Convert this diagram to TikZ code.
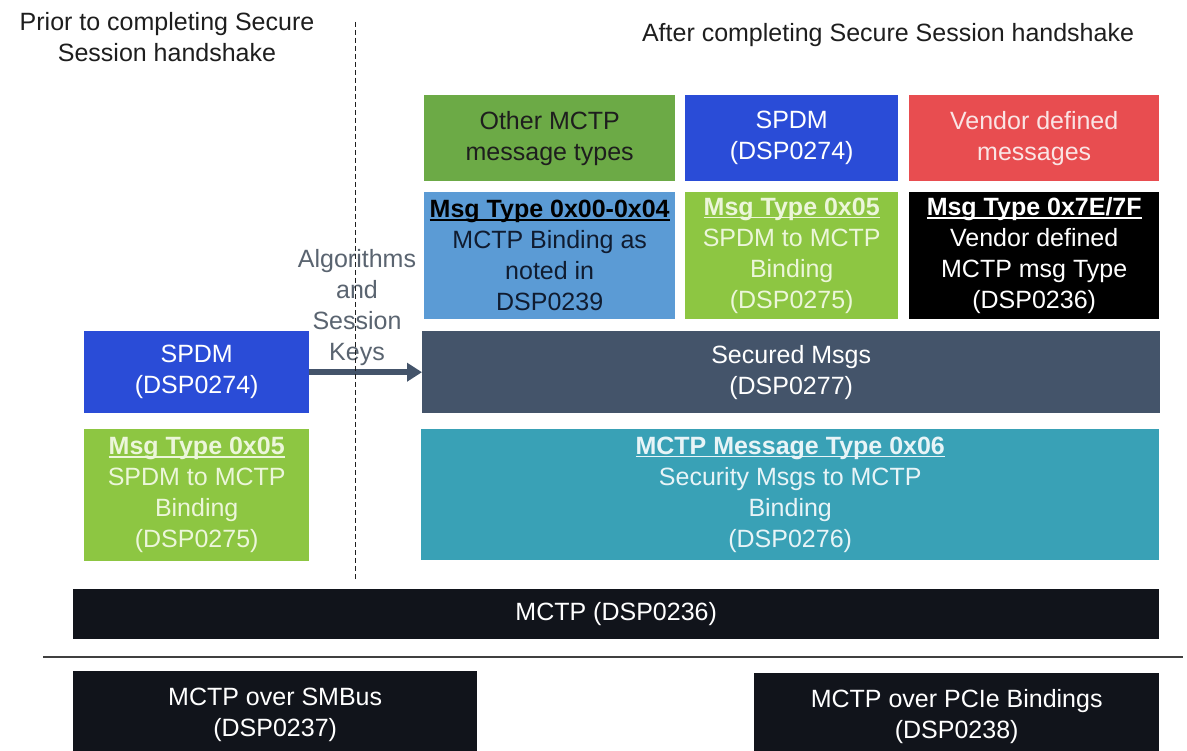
\documentclass[tikz,border=0pt]{standalone}
\usepackage{fontspec}
\setmainfont{Liberation Sans}
\usetikzlibrary{arrows.meta}
\definecolor{cOther}{RGB}{108,170,70}
\definecolor{cSpdm}{RGB}{42,76,215}
\definecolor{cVend}{RGB}{232,77,80}
\definecolor{cVendTxt}{RGB}{250,228,228}
\definecolor{cLBlue}{RGB}{91,155,213}
\definecolor{cLBlueTxt}{RGB}{16,28,48}
\definecolor{cLGreen}{RGB}{141,198,66}
\definecolor{cLGreenTxt}{RGB}{236,246,218}
\definecolor{cSec}{RGB}{68,84,106}
\definecolor{cTeal}{RGB}{57,161,182}
\definecolor{cTealTxt}{RGB}{232,244,247}
\definecolor{cDark}{RGB}{17,20,27}
\definecolor{cAlg}{RGB}{90,100,112}
\definecolor{cTitle}{RGB}{30,30,30}
\newcommand\hul[1]{\setbox0=\hbox{\bfseries #1}\rlap{\rule[-3pt]{\wd0}{1.5pt}}\box0}
\begin{document}
\begin{tikzpicture}[x=1pt,y=-1pt,
  box/.style={rectangle, anchor=north west, inner sep=0pt, align=center,
    font=\fontsize{25}{31}\selectfont},
  lbl/.style={inner sep=0pt, align=center, font=\fontsize{25}{31}\selectfont},
  arrowst/.style={draw=cSec, line width=6pt, -{Triangle[length=15pt,width=18pt]}},
  divider/.style={draw=cTitle, dash pattern=on 5pt off 3pt, line width=0.9pt},
  sepline/.style={draw=black!75, line width=1.6pt}]
\useasboundingbox (0,0) rectangle (1187,751);
\fill[white] (0,0) rectangle (1187,751);
% titles
\node[lbl, text=cTitle] (tleft) at (167,37) {Prior to completing Secure\\Session handshake};
\node[lbl, text=cTitle] (tright) at (888,35) {After completing Secure Session handshake};
% top row
\node[box, fill=cOther, text=cTitle, minimum width=251pt, minimum height=86pt] (other) at (424,95) {Other MCTP\\message types};
\node[box, fill=cSpdm, text=white, minimum width=213pt, minimum height=86pt] (spdmT) at (685,95) {SPDM\\(DSP0274)};
\node[box, fill=cVend, text=cVendTxt, minimum width=250pt, minimum height=86pt] (vend) at (909,95) {Vendor defined\\messages};
% second row
\node[box, fill=cLBlue, text=cLBlueTxt, minimum width=251pt, minimum height=127pt] (mt0) at (424,192) {{\color{black}\hul{Msg Type 0x00-0x04}}\\MCTP Binding as\\noted in\\DSP0239};
\node[box, fill=cLGreen, text=cLGreenTxt, minimum width=213pt, minimum height=127pt] (mt5) at (685,192) {\hul{Msg Type 0x05}\\SPDM to MCTP\\Binding\\(DSP0275)};
\node[box, fill=black, text=white, minimum width=250pt, minimum height=127pt] (mt7) at (909,192) {\hul{Msg Type 0x7E/7F}\\Vendor defined\\MCTP msg Type\\(DSP0236)};
% secured
\node[box, fill=cSec, text=white, minimum width=738pt, minimum height=82pt] (sec) at (422,331) {Secured Msgs\\(DSP0277)};
\node[box, fill=cSpdm, text=white, minimum width=225pt, minimum height=82pt] (spdmL) at (84,331) {SPDM\\(DSP0274)};
% third row
\node[box, fill=cLGreen, text=cLGreenTxt, minimum width=225pt, minimum height=132pt] (mt5L) at (84,429) {\hul{Msg Type 0x05}\\SPDM to MCTP\\Binding\\(DSP0275)};
\node[box, fill=cTeal, text=cTealTxt, minimum width=738pt, minimum height=131pt] (teal) at (421,429) {\hul{MCTP Message Type 0x06}\\Security Msgs to MCTP\\Binding\\(DSP0276)};
% MCTP
\node[box, fill=cDark, text=white, minimum width=1086pt, minimum height=50pt] (mctp) at (73,589) {MCTP (DSP0236)};
% bottom
\node[box, fill=cDark, text=white, minimum width=404pt, minimum height=88pt] (smbus) at (73,671) {MCTP over SMBus\\(DSP0237)};
\node[box, fill=cDark, text=white, minimum width=405pt, minimum height=86pt] (pcie) at (754,673) {MCTP over PCIe Bindings\\(DSP0238)};
% separator
\coordinate (sl) at (43,657);
\coordinate (sr) at (1183,657);
\draw[sepline] (sl) -- (sr);
% arrow and label
\node[lbl, text=cAlg] (alg) at (357,308) {Algorithms\\and\\Session\\Keys};
\draw[arrowst] (spdmL.east) -- (sec.west);
% dashed divider
\coordinate (dtop) at (355,22);
\coordinate (dbot) at (355,580);
\draw[divider] (dtop) -- (dbot);
\end{tikzpicture}
\end{document}
